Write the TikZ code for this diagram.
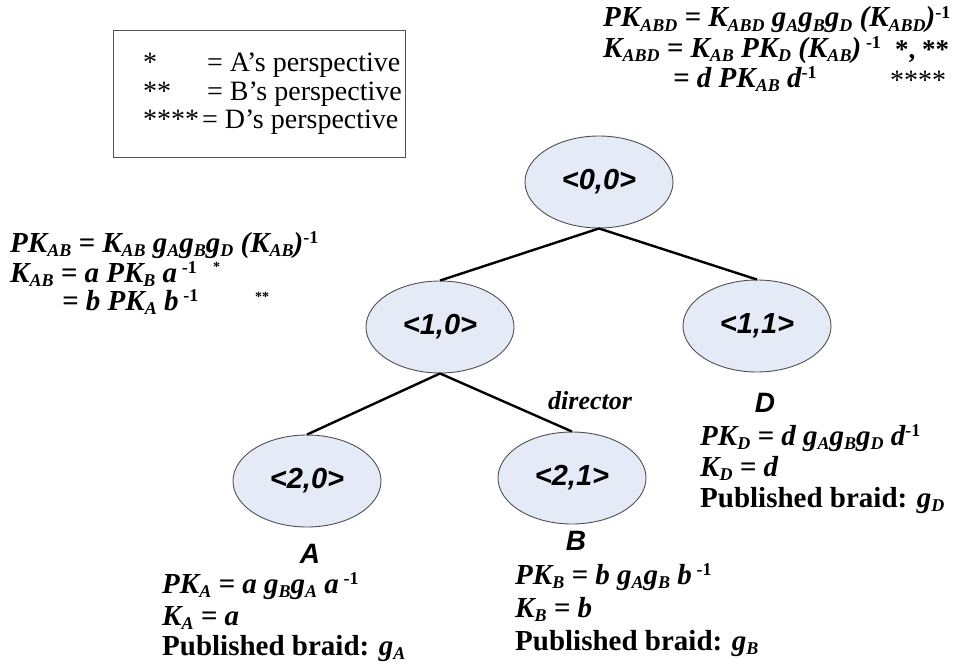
\documentclass[tikz,border=0pt]{standalone}
\usepackage{fontspec}
\setmainfont{Liberation Serif}
\newfontfamily\arialf{Liberation Sans}
\usetikzlibrary{shapes.geometric}
\definecolor{nodefill}{RGB}{228,234,246}
\definecolor{nodeline}{RGB}{80,80,80}
% subscript and superscript helpers for the key formulas
\newcommand\lw[1]{\raisebox{-0.16em}{\fontsize{18}{18}\selectfont #1}}
\newcommand\hi[1]{\raisebox{0.28em}{\fontsize{18}{18}\selectfont\upshape #1}}
\begin{document}
\begin{tikzpicture}[x=1pt,y=-1pt,
  treenode/.style={ellipse,draw=nodeline,line width=0.9pt,fill=nodefill,
    minimum width=148,minimum height=92,inner sep=0,
    font=\arialf\bfseries\itshape\fontsize{29}{29}\selectfont},
  branch/.style={line width=2.4pt,black},
  eqline/.style={anchor=base west,inner sep=0,
    font=\bfseries\itshape\fontsize{29}{29}\selectfont},
  smallstar/.style={anchor=base west,inner sep=0,
    font=\bfseries\fontsize{14}{14}\selectfont},
  bigstar/.style={anchor=base west,inner sep=0,
    font=\fontsize{28}{28}\selectfont},
  legtext/.style={anchor=base west,inner sep=0,
    font=\fontsize{28}{28}\selectfont},
  member/.style={anchor=base,inner sep=0,
    font=\arialf\bfseries\itshape\fontsize{28}{28}\selectfont}]
\useasboundingbox (0,0) rectangle (966,669);

% legend
\node[draw=nodeline,line width=1.2pt,minimum width=292,minimum height=127,
  inner sep=0,anchor=north west] (legend) at (113,30) {};
\node[bigstar] (l1s) at (143,71) {*};
\node[legtext] (l1t) at (207,71) {= A’s perspective};
\node[bigstar] (l2s) at (143,100) {**};
\node[legtext] (l2t) at (207,100) {= B’s perspective};
\node[bigstar] (l3s) at (143,128) {****};
\node[legtext] (l3t) at (202,128) {= D’s perspective};

% tree
\node[treenode] (n00) at (599,182) {<0,0>};
\node[treenode] (n10) at (440,327) {<1,0>};
\node[treenode] (n11) at (757,326) {<1,1>};
\node[treenode] (n20) at (307,481) {<2,0>};
\node[treenode] (n21) at (572,478) {<2,1>};
\draw[branch] (n00.south) -- (n10.north);
\draw[branch] (n00.south) -- (n11.north);
\draw[branch] (n10.south) -- (n20.north);
\draw[branch] (n10.south) -- (n21.north);
\node[anchor=base west,inner sep=0,font=\bfseries\itshape\fontsize{26}{26}\selectfont]
  (director) at (548,409) {director};

% group key ABD
\node[eqline] (r1) at (603,27) {PK\lw{ABD} = K\lw{ABD} g\lw{A}g\lw{B}g\lw{D} (K\lw{ABD})\hi{-1}};
\node[eqline] (r2) at (603,57) {K\lw{ABD} = K\lw{AB} PK\lw{D} (K\lw{AB})\,\hi{-1}};
\node[bigstar,font=\bfseries\fontsize{27}{27}\selectfont] (r2s) at (895,59) {*, **};
\node[eqline] (r3) at (673,87) {= d PK\lw{AB} d\hi{-1}};
\node[bigstar] (r3s) at (890,89) {****};

% group key AB
\node[eqline] (k1) at (10,252) {PK\lw{AB} = K\lw{AB} g\lw{A}g\lw{B}g\lw{D} (K\lw{AB})\hi{-1}};
\node[eqline] (k2) at (10,282) {K\lw{AB} = a PK\lw{B} a\,\hi{-1}};
\node[smallstar] (k2s) at (213,271) {*};
\node[eqline] (k3) at (62,310) {= b PK\lw{A} b\,\hi{-1}};
\node[smallstar] (k3s) at (255,301) {**};

% member D
\node[member] (mD) at (765,412) {D};
\node[eqline] (d1) at (700,445) {PK\lw{D} = d g\lw{A}g\lw{B}g\lw{D} d\hi{-1}};
\node[eqline] (d2) at (700,476) {K\lw{D} = d};
\node[eqline] (d3) at (700,507) {{\upshape Published braid:} g\lw{D}};

% member A
\node[member] (mA) at (310,563) {A};
\node[eqline] (a1) at (162,593) {PK\lw{A} = a g\lw{B}g\lw{A} a\,\hi{-1}};
\node[eqline] (a2) at (162,625) {K\lw{A} = a};
\node[eqline] (a3) at (162,655) {{\upshape Published braid:} g\lw{A}};

% member B
\node[member] (mB) at (576,550) {B};
\node[eqline] (b1) at (515,584) {PK\lw{B} = b g\lw{A}g\lw{B} b\,\hi{-1}};
\node[eqline] (b2) at (515,617) {K\lw{B} = b};
\node[eqline] (b3) at (515,650) {{\upshape Published braid:} g\lw{B}};
\end{tikzpicture}
\end{document}
